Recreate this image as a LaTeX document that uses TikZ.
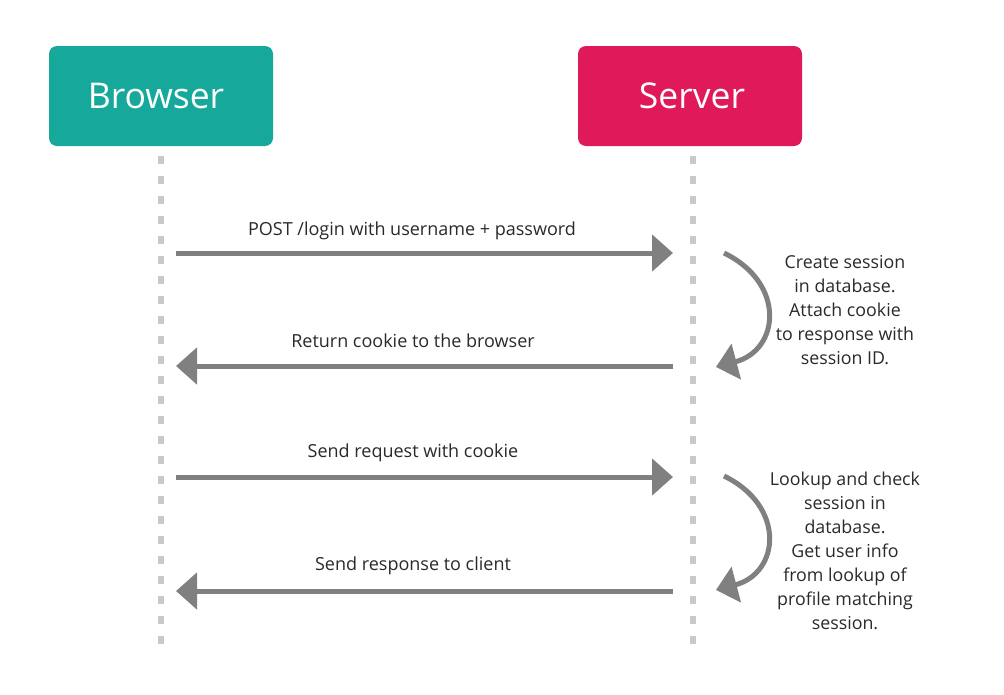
\documentclass[tikz,border=0pt]{standalone}
\usepackage{fontspec}
\setmainfont{Open Sans}
\usetikzlibrary{arrows.meta}
\definecolor{teal1}{HTML}{16A99B}
\definecolor{crim}{HTML}{E01A5A}
\definecolor{arrowgray}{HTML}{808080}
\definecolor{lifegray}{HTML}{C9C9C9}
\definecolor{txt}{HTML}{2A2A2A}
\tikzset{
  actor/.style={rounded corners=8pt, minimum width=224pt, minimum height=100pt, inner sep=0pt, text=white, font=\fontsize{35.5pt}{40pt}\selectfont},
  lifeline/.style={line width=6pt, lifegray, dash pattern=on 8pt off 12pt},
  msg/.style={line width=5pt, arrowgray, -{Triangle[length=21pt,width=36pt]}},
  selfmsg/.style={line width=5pt, arrowgray, -{Triangle[length=21pt,width=36pt]}},
  msglabel/.style={text=txt, font=\fontsize{18pt}{22pt}\selectfont, inner sep=0pt},
  note/.style={text=txt, font=\fontsize{17.8pt}{24pt}\selectfont, align=center, inner sep=0pt}
}
\begin{document}
\begin{tikzpicture}[x=1pt,y=-1pt]
\useasboundingbox[fill=white] (0,0) rectangle (1004,694);
% actors
\node[actor, fill=teal1] (browser) at (161,96) {\hspace*{-10pt}Browser};
\node[actor, fill=crim] (server) at (690,96) {\hspace*{4pt}Server};
% lifelines
\coordinate (bl0) at (161,156);
\coordinate (bl1) at (161,648);
\coordinate (sl0) at (693,156);
\coordinate (sl1) at (693,648);
\draw[lifeline] (bl0) -- (bl1);
\draw[lifeline] (sl0) -- (sl1);
% message 1
\coordinate (m1a) at (176,253);
\coordinate (m1b) at (673,253);
\draw[msg] (m1a) -- (m1b);
\node[msglabel] (l1) at (412,231) {POST /login with username + password};
% message 2
\coordinate (m2a) at (673,366);
\coordinate (m2b) at (176,366);
\draw[msg] (m2a) -- (m2b);
\node[msglabel] (l2) at (413,341) {Return cookie to the browser};
% message 3
\coordinate (m3a) at (176,477);
\coordinate (m3b) at (673,477);
\draw[msg] (m3a) -- (m3b);
\node[msglabel] (l3) at (413,453) {Send request with cookie};
% message 4
\coordinate (m4a) at (673,591);
\coordinate (m4b) at (176,591);
\draw[msg] (m4a) -- (m4b);
\node[msglabel] (l4) at (413,566) {Send response to client};
% self loops
\coordinate (s1a) at (724,253);
\coordinate (s1b) at (716,367);
\draw[selfmsg] (s1a) .. controls (786,283) and (780,350) .. (s1b);
\coordinate (s2a) at (724,476);
\coordinate (s2b) at (716,590);
\draw[selfmsg] (s2a) .. controls (786,506) and (780,573) .. (s2b);
% notes
\node[note] (n1) at (845,310) {Create session\\in database.\\Attach cookie\\to response with\\session ID.};
\node[note] (n2) at (845,551) {Lookup and check\\session in\\database.\\Get user info\\from lookup of\\profile matching\\session.};
\end{tikzpicture}
\end{document}
